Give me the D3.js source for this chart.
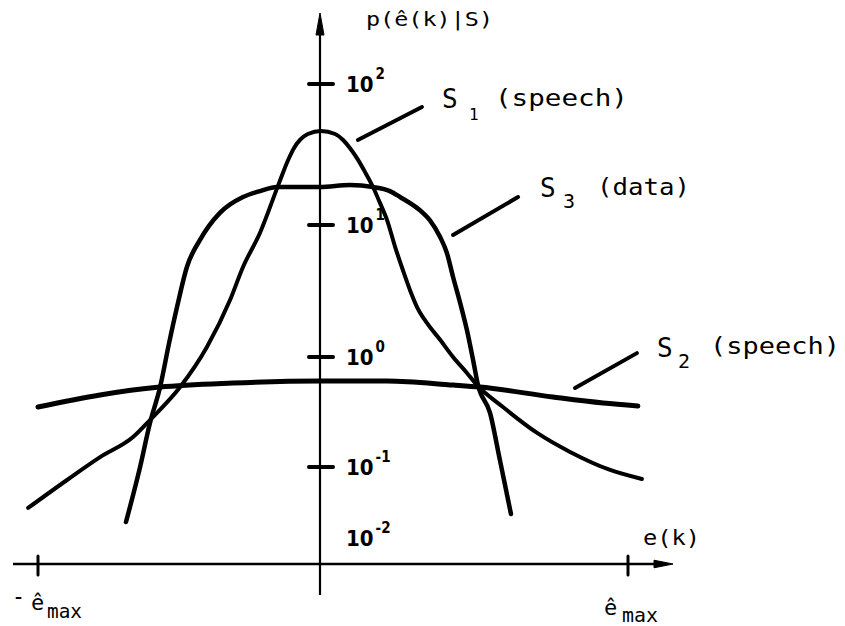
<!DOCTYPE html>
<html>
<head>
<meta charset="utf-8">
<script src="https://cdn.jsdelivr.net/npm/d3@7"></script>
<style>
  body { margin: 0; background: #fff; }
  svg { display: block; }
  .letter { font-family: "DejaVu Sans Mono", "Liberation Mono", monospace; fill: #000; }
  .tick-label { font-family: "Liberation Sans Narrow", "DejaVu Sans Condensed", "Liberation Sans", sans-serif; font-weight: bold; fill: #000; }
</style>
</head>
<body>
<svg id="chart" width="845" height="626"></svg>
<script>
// Normalised error axis: -1 = -ê_max, +1 = ê_max
// Densities p(ê(k)|S) on a logarithmic axis

// S1 (speech): sharply peaked, long tails
const s1E = [-1.035, -0.897, -0.780, -0.663, -0.603, -0.496, -0.401, -0.319, -0.273, -0.213,
             -0.145, -0.113, -0.092, -0.071, -0.043, 0.003, 0.049, 0.075, 0.097, 0.120,
             0.146, 0.172, 0.195, 0.218, 0.244, 0.269, 0.292, 0.315, 0.347, 0.390,
             0.432, 0.477, 0.510, 0.594, 0.705, 0.812, 0.942, 1.045];
const s1P = [0.0265, 0.0656, 0.123, 0.187, 0.267, 0.533, 1.19, 2.70, 4.81, 8.70,
             19.9, 28.9, 35.2, 40.1, 44.2, 46.4, 44.2, 40.1, 35.2, 29.8,
             23.8, 18.6, 14.3, 10.8, 6.81, 4.56, 3.22, 2.39, 1.81, 1.35,
             1.0, 0.716, 0.556, 0.351, 0.204, 0.137, 0.0908, 0.0678];

// S2 (speech): broad, almost flat
const s2E = [-1.0, -0.780, -0.567, -0.309, 0, 0.218, 0.432, 0.519, 0.756, 0.919, 1.032];
const s2P = [0.351, 0.452, 0.533, 0.580, 0.605, 0.605, 0.556, 0.533, 0.433, 0.382, 0.359];

// S3 (data): flat top, steep flanks
const s3E = [-0.688, -0.638, -0.603, -0.567, -0.535, -0.507, -0.472, -0.426, -0.355, -0.273,
             -0.213, -0.152, 0, 0.097, 0.172, 0.227, 0.260, 0.334, 0.357, 0.390,
             0.412, 0.432, 0.455, 0.477, 0.497, 0.513, 0.552, 0.584, 0.620];
const s3P = [0.0168, 0.1, 0.251, 0.533, 1.28, 2.39, 4.81, 7.69, 12.2, 15.8,
             17.4, 18.6, 18.6, 19.2, 18.6, 17.4, 15.8, 12.2, 10.8, 8.11,
             6.14, 4.04, 2.57, 1.60, 0.94, 0.556, 0.310, 0.116, 0.0218];

// Axis ticks
const pTickValues = [1e2, 1e1, 1e0, 1e-1];
const pLabelValues = [1e2, 1e1, 1e0, 1e-1, 1e-2];
const pLabelExponents = ["2", "1", "0", "-1", "-2"];
const eTickValues = [-1, 1];

// Curve labels
const seriesSymbols = ["S", "S", "S"];
const seriesIndices = ["1", "2", "3"];
const seriesKinds = ["(speech)", "(speech)", "(data)"];
// leader line ends, in data units [e, p]
const leaderFrom = [[0.123, 40.1], [0.828, 0.523], [0.432, 8.4]];
const leaderTo = [[0.331, 68.7], [1.029, 1.07], [0.643, 15.8]];

const svg = d3.select("#chart");

// Hand-drawn axes are not evenly spaced, so piecewise scales are used
const x = d3.scaleLinear().domain([-1, 0, 1]).range([38, 320, 628]);
const y = d3.scaleLog().domain([1e2, 1e1, 1e0, 1e-1, 1e-2]).range([84, 225, 357, 467, 538]);

const baseY = 564;     // horizontal axis position
const axisTop = 13;    // tip of the vertical arrow
const axisBottom = 595;
const axisLeft = 13;
const axisRight = 673; // tip of the horizontal arrow

const ink = "#000";

// ---- axes ----
const x0 = x(0);
svg.append("line")
  .attr("x1", x0).attr("x2", x0)
  .attr("y1", axisBottom).attr("y2", axisTop + 16)
  .attr("stroke", ink).attr("stroke-width", 2.2);
svg.append("path")
  .attr("d", `M${x0},${axisTop} L${x0 - 4},${axisTop + 22} L${x0 + 4},${axisTop + 22} Z`)
  .attr("fill", ink).attr("stroke", ink).attr("stroke-width", 1).attr("stroke-linejoin", "round");

svg.append("line")
  .attr("x1", axisLeft).attr("x2", axisRight - 14)
  .attr("y1", baseY).attr("y2", baseY)
  .attr("stroke", ink).attr("stroke-width", 2.6);
svg.append("path")
  .attr("d", `M${axisRight},${baseY} L${axisRight - 19},${baseY - 3.8} L${axisRight - 19},${baseY + 3.8} Z`)
  .attr("fill", ink).attr("stroke", ink).attr("stroke-width", 1).attr("stroke-linejoin", "round");

// y ticks: short crosses through the axis
svg.selectAll(".ytick").data(pTickValues).join("line")
  .attr("class", "ytick")
  .attr("x1", x0 - 11).attr("x2", x0 + 13)
  .attr("y1", d => y(d)).attr("y2", d => y(d))
  .attr("stroke", ink).attr("stroke-width", 4).attr("stroke-linecap", "round");

// y tick labels 10^n
const tl = svg.selectAll(".tick-label").data(pLabelValues).join("text")
  .attr("class", "tick-label")
  .attr("x", x0 + 26)
  .attr("y", d => y(d) + 8)
  .attr("font-size", 22)
  .text("10");
tl.append("tspan")
  .attr("dx", 2).attr("dy", -13)
  .attr("font-size", 15)
  .text((d, i) => pLabelExponents[i]);

// e ticks
svg.selectAll(".xtick").data(eTickValues).join("line")
  .attr("class", "xtick")
  .attr("x1", d => x(d)).attr("x2", d => x(d))
  .attr("y1", baseY - 8).attr("y2", baseY + 11)
  .attr("stroke", ink).attr("stroke-width", 3).attr("stroke-linecap", "round");

// axis titles
svg.append("text").attr("class", "letter")
  .attr("x", x0 + 46).attr("y", 26)
  .attr("font-size", 19)
  .attr("textLength", 127).attr("lengthAdjust", "spacingAndGlyphs")
  .text("p(ê(k)|S)");

svg.append("text").attr("class", "letter")
  .attr("x", x(1) + 15).attr("y", baseY - 19)
  .attr("font-size", 21)
  .attr("textLength", 57).attr("lengthAdjust", "spacingAndGlyphs")
  .text("e(k)");

// -ê_max and ê_max
svg.append("text").attr("class", "letter")
  .attr("x", x(-1) - 26).attr("y", baseY + 41)
  .attr("font-size", 24)
  .attr("textLength", 13).attr("lengthAdjust", "spacingAndGlyphs")
  .text("-");
svg.append("text").attr("class", "letter")
  .attr("x", x(-1) - 7).attr("y", baseY + 46)
  .attr("font-size", 22).text("ê");
svg.append("text").attr("class", "letter")
  .attr("x", x(-1) + 9).attr("y", baseY + 54)
  .attr("font-size", 19)
  .attr("textLength", 35).attr("lengthAdjust", "spacingAndGlyphs")
  .text("max");

svg.append("text").attr("class", "letter")
  .attr("x", x(1) - 24).attr("y", baseY + 51)
  .attr("font-size", 22).text("ê");
svg.append("text").attr("class", "letter")
  .attr("x", x(1) - 6).attr("y", baseY + 58)
  .attr("font-size", 19)
  .attr("textLength", 36).attr("lengthAdjust", "spacingAndGlyphs")
  .text("max");

// ---- curves ----
const line = d3.line()
  .x(d => x(d[0]))
  .y(d => y(d[1]))
  .curve(d3.curveMonotoneX);

const curves = [
  { pts: d3.zip(s1E, s1P), w: 4 },
  { pts: d3.zip(s2E, s2P), w: 5 },
  { pts: d3.zip(s3E, s3P), w: 4.5 }
];

svg.selectAll(".curve").data(curves).join("path")
  .attr("class", "curve")
  .attr("d", d => line(d.pts))
  .attr("fill", "none")
  .attr("stroke", ink)
  .attr("stroke-width", d => d.w)
  .attr("stroke-linecap", "round")
  .attr("stroke-linejoin", "round");

// ---- curve labels with leader lines ----
const labelOffsets = [
  { s: [20, 1], sub: [47, 13], kind: [73, -1], kindLen: 133 },
  { s: [20, 4], sub: [41, 15], kind: [73, 1], kindLen: 130 },
  { s: [22, 0], sub: [45, 11], kind: [79, -2], kindLen: 93 }
];
const subSizes = [16, 20, 20];

seriesSymbols.forEach((sym, i) => {
  const a = leaderFrom[i], b = leaderTo[i];
  svg.append("line")
    .attr("x1", x(a[0])).attr("y1", y(a[1]))
    .attr("x2", x(b[0])).attr("y2", y(b[1]))
    .attr("stroke", ink).attr("stroke-width", 4).attr("stroke-linecap", "round");

  const bx = x(b[0]), by = y(b[1]);
  const o = labelOffsets[i];
  svg.append("text").attr("class", "letter")
    .attr("x", bx + o.s[0]).attr("y", by + o.s[1])
    .attr("font-size", 26).text(sym);
  svg.append("text").attr("class", "letter")
    .attr("x", bx + o.sub[0]).attr("y", by + o.sub[1])
    .attr("font-size", subSizes[i]).text(seriesIndices[i]);
  svg.append("text").attr("class", "letter")
    .attr("x", bx + o.kind[0]).attr("y", by + o.kind[1])
    .attr("font-size", 23)
    .attr("textLength", o.kindLen).attr("lengthAdjust", "spacingAndGlyphs")
    .text(seriesKinds[i]);
});
</script>
</body>
</html>
